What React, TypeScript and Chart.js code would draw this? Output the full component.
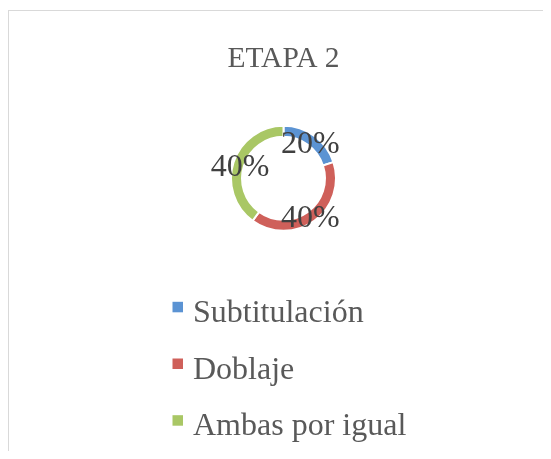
import React, { useEffect, useRef } from "react";
import { Chart, registerables } from "chart.js";

Chart.register(...registerables);

const categories = ["Subtitulación", "Doblaje", "Ambas por igual"];
const values = [20, 40, 40];
const valueLabels = ["20%", "40%", "40%"];
const colors = ["#5B93D3", "#CF605A", "#A9C765"];
const titleText = "ETAPA 2";

const SERIF = "'Liberation Serif', 'Times New Roman', serif";

const labelPlugin = {
  id: "valueLabels",
  afterDatasetsDraw(chart: any) {
    const ctx = chart.ctx;
    const meta = chart.getDatasetMeta(0);
    ctx.save();
    ctx.font = `32px ${SERIF}`;
    ctx.fillStyle = "#404040";
    ctx.textAlign = "center";
    ctx.textBaseline = "middle";
    meta.data.forEach((arc: any, i: number) => {
      const p = arc.getProps(["x", "y", "startAngle", "endAngle", "outerRadius"], true);
      const mid = (p.startAngle + p.endAngle) / 2;
      const r = p.outerRadius * 0.87;
      ctx.fillText(valueLabels[i], p.x + Math.cos(mid) * r, p.y + Math.sin(mid) * r + 3.5);
    });
    ctx.restore();
  },
};

const legendPlugin = {
  id: "columnLegend",
  afterDraw(chart: any) {
    const ctx = chart.ctx;
    const area = chart.chartArea;
    const cx = (area.left + area.right) / 2;
    const left = cx - 111;
    const firstBaseline = area.bottom + 51.5;
    const rowGap = 56.7;
    const bg = chart.data.datasets[0].backgroundColor as string[];
    ctx.save();
    ctx.font = `32px ${SERIF}`;
    ctx.textAlign = "left";
    ctx.textBaseline = "alphabetic";
    (chart.data.labels as string[]).forEach((lab: string, i: number) => {
      const base = firstBaseline + i * rowGap;
      ctx.fillStyle = bg[i];
      ctx.fillRect(left, base - 20, 10.5, 10.5);
      ctx.fillStyle = "#595959";
      ctx.fillText(lab, left + 20.5, base);
    });
    ctx.restore();
  },
};

export default function App() {
  const ref = useRef<HTMLCanvasElement | null>(null);
  useEffect(() => {
    if (!ref.current) return;
    const chart = new Chart(ref.current, {
      type: "doughnut",
      data: {
        labels: categories,
        datasets: [
          {
            data: values,
            backgroundColor: colors,
            borderColor: "#ffffff",
            borderWidth: 2,
            radius: 52.5,
            cutout: "79%",
          } as any,
        ],
      },
      options: {
        animation: false,
        responsive: false,
        maintainAspectRatio: false,
        layout: { padding: { left: 8, right: 0, top: 0, bottom: 188.7 } },
        plugins: {
          legend: { display: false },
          tooltip: { enabled: false },
          title: {
            display: true,
            text: titleText,
            color: "#595959",
            font: { family: SERIF, size: 29.5, weight: "normal" as any, lineHeight: 1.2 },
            padding: { top: 33.8, bottom: 9.1 },
          },
        },
      },
      plugins: [labelPlugin, legendPlugin],
    });
    return () => chart.destroy();
  }, []);

  return (
    <div
      style={{
        position: "relative",
        width: 543,
        height: 451,
        marginBottom: -8,
        overflow: "hidden",
      }}
    >
      <div
        style={{
          position: "absolute",
          left: 0,
          top: 2,
          width: 600,
          height: 600,
          border: "1px solid #d9d9d9",
          boxSizing: "border-box",
        }}
      />
      <canvas
        ref={ref}
        width={543}
        height={451}
        style={{ position: "absolute", left: 0, top: 0, width: 543, height: 451 }}
      />
    </div>
  );
}
